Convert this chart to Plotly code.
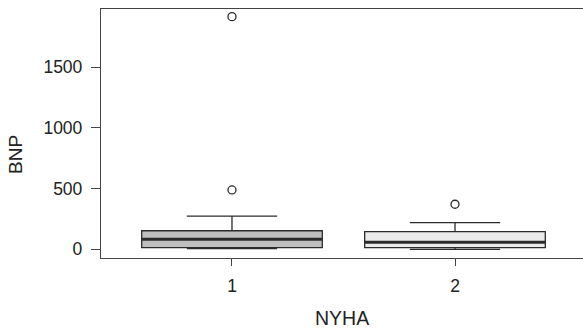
import plotly.graph_objects as go

# Data
groups = ["1", "2"]
group_pos = [1, 2]
q1 = [13, 13]
median = [82, 58]
q3 = [153, 145]
lower_whisker = [5, 0]
upper_whisker = [274, 219]
outliers = [[489, 1917], [371]]
fill_colors = ["#BFBFBF", "#EBEBEB"]
y_ticks = [0, 500, 1000, 1500]

box_width = 0.81
line_col = "#2b2b2b"
font_fam = "Liberation Sans, Arial, sans-serif"

fig = go.Figure()
for i, g in enumerate(groups):
    xp = group_pos[i]
    fig.add_trace(go.Box(
        x=[xp], q1=[q1[i]], median=[median[i]], q3=[q3[i]],
        lowerfence=[lower_whisker[i]], upperfence=[upper_whisker[i]],
        width=box_width, whiskerwidth=0.5,
        fillcolor=fill_colors[i],
        line=dict(color=line_col, width=1.3),
        boxpoints=False, hoverinfo="skip", showlegend=False,
    ))
    # thick median line
    fig.add_trace(go.Scatter(
        x=[xp - box_width / 2, xp + box_width / 2], y=[median[i], median[i]],
        mode="lines", line=dict(color=line_col, width=3),
        hoverinfo="skip", showlegend=False,
    ))
    # outliers
    fig.add_trace(go.Scatter(
        x=[xp] * len(outliers[i]), y=outliers[i], mode="markers",
        marker=dict(symbol="circle-open", size=8, color=line_col,
                    line=dict(width=1.3, color=line_col)),
        hoverinfo="skip", showlegend=False,
    ))

fig.update_layout(
    width=583, height=330,
    margin=dict(l=101, r=0, t=9, b=72),
    paper_bgcolor="white", plot_bgcolor="white",
    font=dict(family=font_fam, size=17.5, color="#222222"),
    xaxis=dict(
        range=[0.4126, 2.574], tickmode="array", tickvals=group_pos, ticktext=groups,
        showline=True, linecolor="#444444", linewidth=1.3, mirror=True,
        ticks="outside", ticklen=7, tickcolor="#444444", tickwidth=1.2,
        showgrid=False, zeroline=False, ticklabelstandoff=5,
    ),
    yaxis=dict(
        range=[-71.7, 1980], tickmode="array", tickvals=y_ticks,
        ticktext=[str(t) for t in y_ticks],
        showline=True, linecolor="#444444", linewidth=1.3, mirror=False,
        ticks="outside", ticklen=9, tickcolor="#444444", tickwidth=1.2,
        showgrid=False, zeroline=False, ticklabelstandoff=5,
    ),
    annotations=[
        dict(text="BNP", xref="paper", yref="paper", x=-0.1763, y=0.4137,
             textangle=-90, showarrow=False, xanchor="center", yanchor="middle",
             font=dict(size=19)),
        dict(text="NYHA", xref="paper", yref="paper", x=0.5, y=-0.241,
             showarrow=False, xanchor="center", yanchor="middle",
             font=dict(size=19.5)),
    ],
)

fig.write_html("out.html")
